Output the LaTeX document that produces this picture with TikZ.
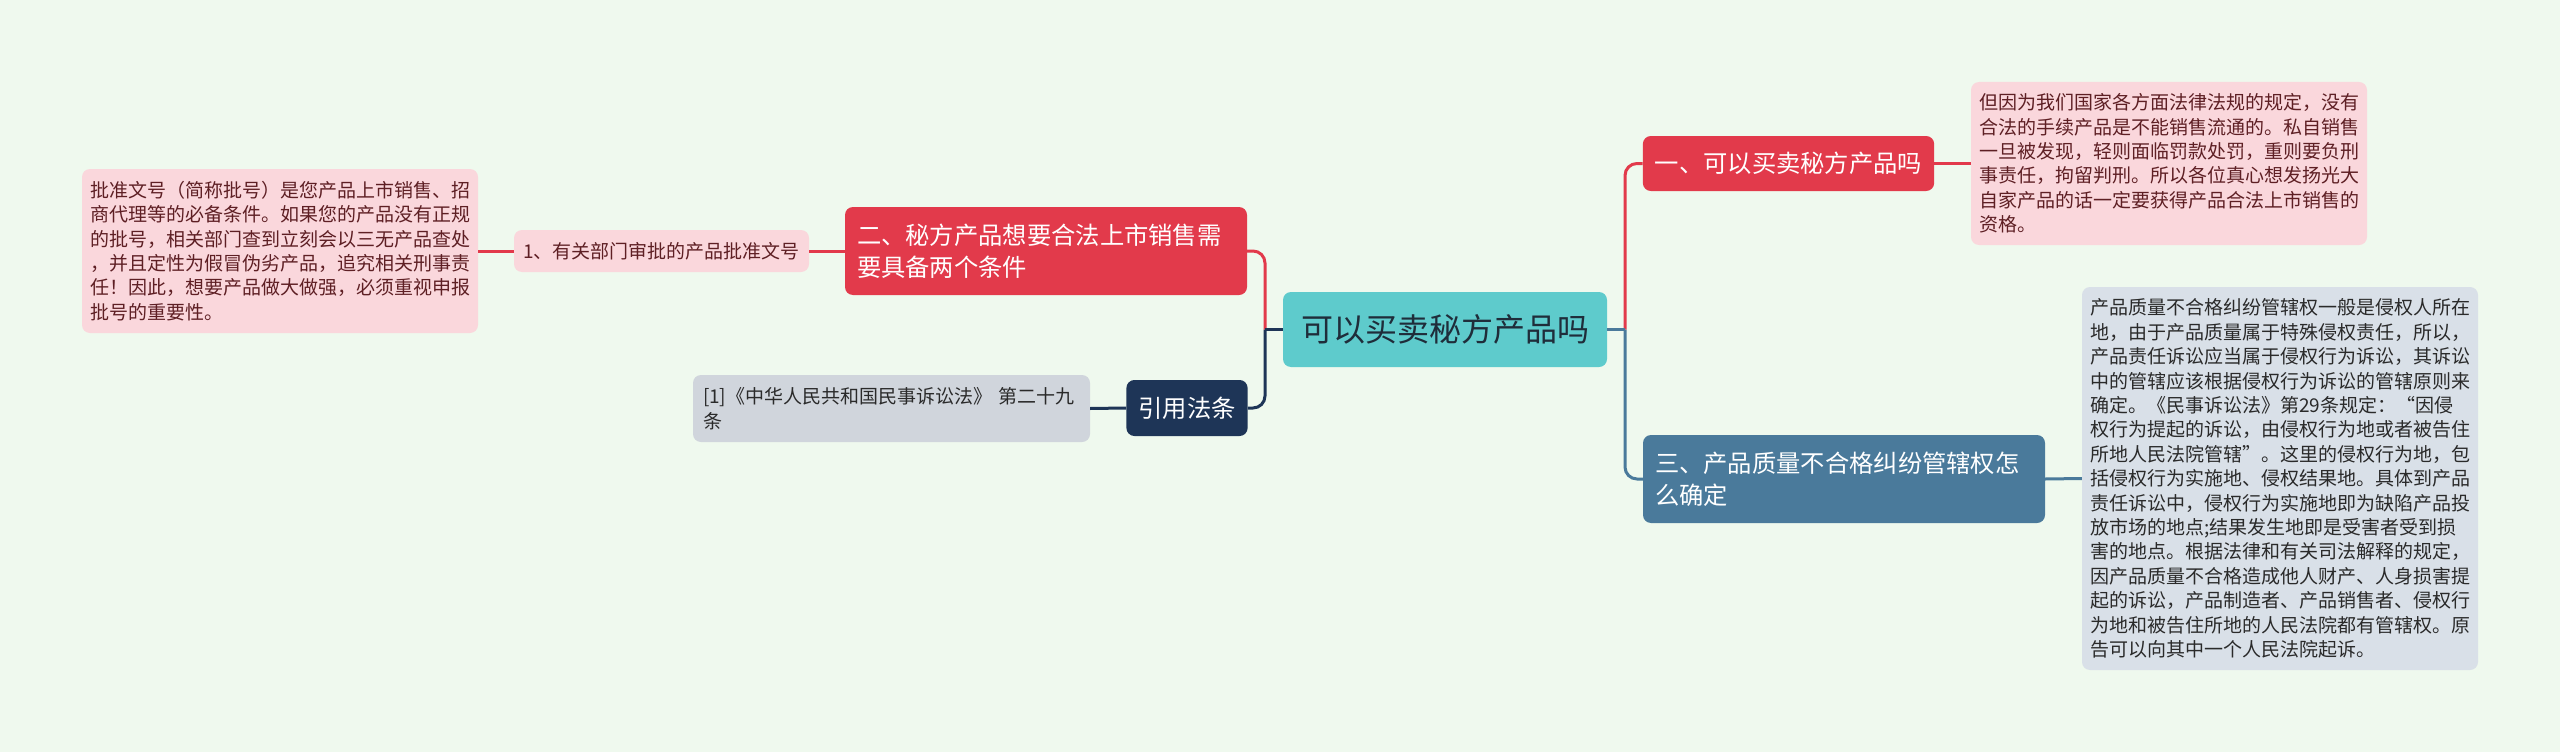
\documentclass[tikz,border=0pt]{standalone}
\usepackage{fontspec}
\setmainfont{Noto Sans CJK SC}
\definecolor{cBg}{HTML}{EFF9EE}
\definecolor{cRed}{HTML}{E23A4B}
\definecolor{cPink}{HTML}{FAD7DC}
\definecolor{cTeal}{HTML}{5ECBCC}
\definecolor{cSteel}{HTML}{4A7A9B}
\definecolor{cNavy}{HTML}{1E3557}
\definecolor{cGrey}{HTML}{D9E0E8}
\definecolor{cCiteGrey}{HTML}{D0D5DC}
\definecolor{cMaroon}{HTML}{5E1F24}
\definecolor{cDark}{HTML}{2A2A2A}
\definecolor{cCenterText}{HTML}{1F2D3A}
\tikzset{
  conn/.style={line width=3pt, rounded corners=12pt},
  leaf/.style={rounded corners=8pt, inner xsep=8pt, inner ysep=0pt, align=left,
    font=\fontsize{19pt}{24.4pt}\selectfont},
  mainbox/.style={rounded corners=8pt, inner xsep=12pt, inner ysep=0pt, align=left,
    text=white, font=\fontsize{24.3pt}{32pt}\selectfont},
  rootbox/.style={rounded corners=8pt, inner sep=0pt, fill=cTeal, text=cCenterText,
    font=\fontsize{32pt}{40pt}\selectfont},
}
\begin{document}
\begin{tikzpicture}[x=1pt,y=-1pt]
\fill[cBg] (0,0) rectangle (2560,752);
\useasboundingbox (0,0) rectangle (2560,752);

% root
\node[rootbox, minimum width=324pt, minimum height=75pt] (c) at (1445,329.5) {可以买卖秘方产品吗};

% right side
\node[mainbox, fill=cRed, minimum width=291pt, minimum height=55pt, align=center] (one) at (1788.5,163.5) {一、可以买卖秘方产品吗};
\node[leaf, fill=cPink, text=cMaroon, text width=380pt, minimum height=163pt] (onep) at (2169,163.5)
{但因为我们国家各方面法律法规的规定，没有\\合法的手续产品是不能销售流通的。私自销售\\一旦被发现，轻则面临罚款处罚，重则要负刑\\事责任，拘留判刑。所以各位真心想发扬光大\\自家产品的话一定要获得产品合法上市销售的\\资格。};

\node[mainbox, fill=cSteel, text width=378pt, minimum height=88pt] (three) at (1844,479) {三、产品质量不合格纠纷管辖权怎\\么确定};
\node[leaf, fill=cGrey, text=cDark, text width=380pt, minimum height=383pt] (threep) at (2280,478.5)
{产品质量不合格纠纷管辖权一般是侵权人所在\\地，由于产品质量属于特殊侵权责任，所以，\\产品责任诉讼应当属于侵权行为诉讼，其诉讼\\中的管辖应该根据侵权行为诉讼的管辖原则来\\确定。《民事诉讼法》第29条规定：“因侵\\权行为提起的诉讼，由侵权行为地或者被告住\\所地人民法院管辖”。这里的侵权行为地，包\\括侵权行为实施地、侵权结果地。具体到产品\\责任诉讼中，侵权行为实施地即为缺陷产品投\\放市场的地点;结果发生地即是受害者受到损\\害的地点。根据法律和有关司法解释的规定，\\因产品质量不合格造成他人财产、人身损害提\\起的诉讼，产品制造者、产品销售者、侵权行\\为地和被告住所地的人民法院都有管辖权。原\\告可以向其中一个人民法院起诉。};

% left side
\node[mainbox, fill=cRed, text width=378pt, minimum height=88pt] (two) at (1046,251) {二、秘方产品想要合法上市销售需\\要具备两个条件};
\node[leaf, fill=cPink, text=cMaroon, minimum width=295pt, minimum height=42pt, align=center] (twoa) at (661.5,251) {1、有关部门审批的产品批准文号};
\node[leaf, fill=cPink, text=cMaroon, text width=380pt, minimum height=164pt] (twob) at (280,251)
{批准文号（简称批号）是您产品上市销售、招\\商代理等的必备条件。如果您的产品没有正规\\的批号，相关部门查到立刻会以三无产品查处\\，并且定性为假冒伪劣产品，追究相关刑事责\\任！因此，想要产品做大做强，必须重视申报\\批号的重要性。};

\node[mainbox, fill=cNavy, minimum width=120pt, minimum height=56pt, align=center] (cite) at (1187,408) {引用法条};
\node[leaf, fill=cCiteGrey, text=cDark, text width=377pt, inner xsep=10pt, minimum height=67pt] (citea) at (891.5,408.5) {[1]《中华人民共和国民事诉讼法》~第二十九\\条};

% junctions
\coordinate (jl) at (1265,329.5);
\coordinate (jr) at (1625,329.5);

% connectors left
\draw[conn, cRed] (jl) |- (two.east);
\draw[conn, cNavy] (jl) |- (cite.east);
\draw[conn, cNavy] (c.west) -- (jl);
\draw[conn, cRed] (two.west) -- (twoa.east);
\draw[conn, cRed] (twoa.west) -- (twob.east);
\draw[conn, cNavy] (cite.west) -- (citea.east);

% connectors right
\draw[conn, cRed] (jr) |- (one.west);
\draw[conn, cSteel] (jr) |- (three.west);
\draw[conn, cSteel] (c.east) -- (jr);
\draw[conn, cRed] (one.east) -- (onep.west);
\draw[conn, cSteel] (three.east) -- (threep.west);
\end{tikzpicture}
\end{document}
